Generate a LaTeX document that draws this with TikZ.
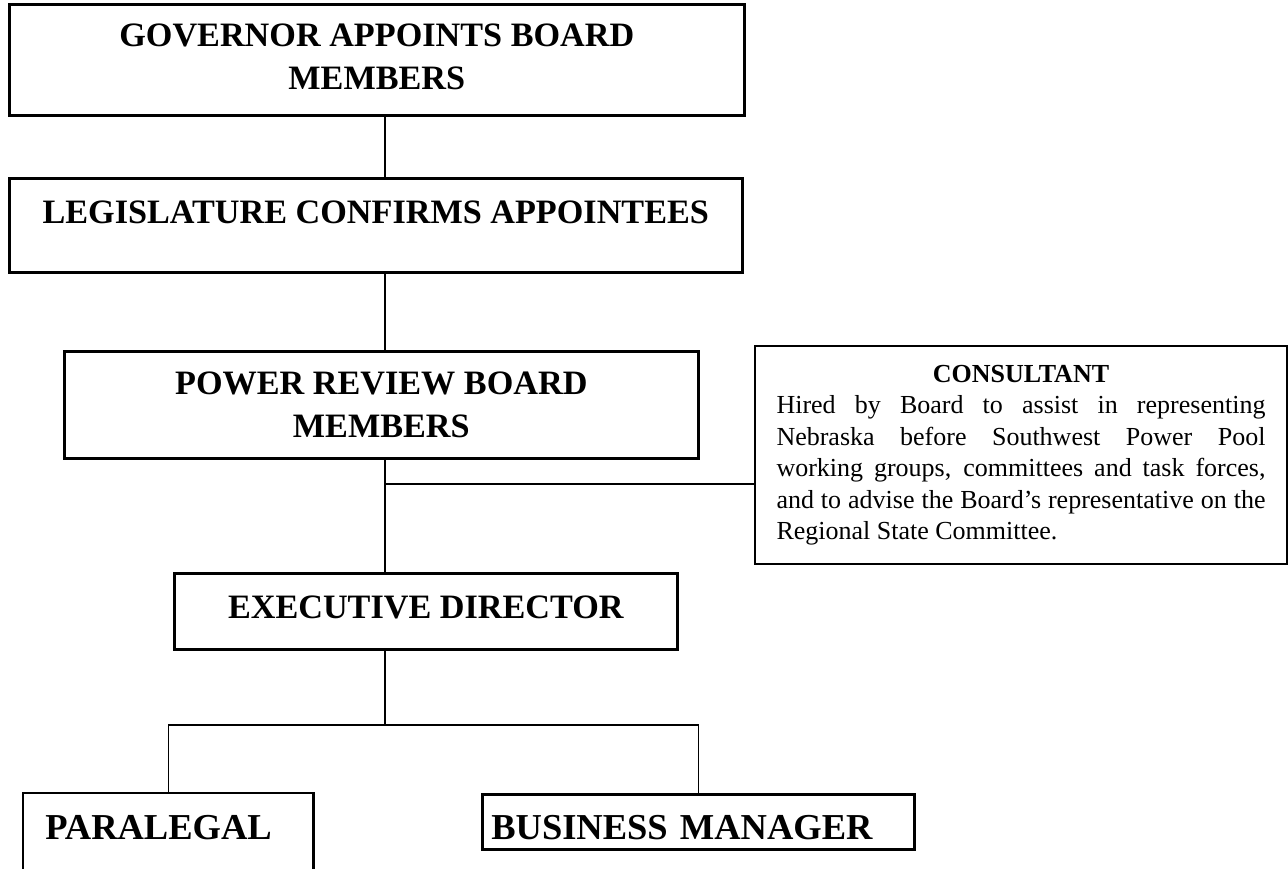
\documentclass[tikz,border=0pt]{standalone}
\usepackage{fontspec}
\setmainfont{Liberation Serif}
\usepackage{tikz}

\begin{document}
\begin{tikzpicture}[x=1pt,y=-1pt,
  box/.style={draw,line width=2.6pt,inner sep=0pt,anchor=north west,align=center,
              font=\bfseries\fontsize{34.2}{43}\selectfont},
  lowbox/.style={box,align=left,font=\bfseries\fontsize{36.5}{43}\selectfont,
                 text height=45pt},
  note/.style={draw,line width=2pt,anchor=north west,text width=489pt,
               inner xsep=21.5pt,inner ysep=19pt,align=justify,
               font=\fontsize{26}{31.5}\selectfont},
  link/.style={line width=1.6pt}]
  \useasboundingbox (0,0) rectangle (1288,869);
  \coordinate (spine) at (385,0);

  \node[box,minimum width=735pt,minimum height=111pt,text depth=6pt] (gov) at (8,3)
    {GOVERNOR APPOINTS BOARD\\ MEMBERS};
  \node[box,minimum width=733pt,text height=45pt,text depth=49pt] (leg) at (8,177)
    {LEGISLATURE CONFIRMS APPOINTEES};
  \node[box,minimum width=634pt,minimum height=107pt] (prb) at (63,350)
    {POWER REVIEW BOARD\\ MEMBERS};
  \node[note] (cons) at (754,345)
    {\noindent\hfill\textbf{CONSULTANT}\hfill\null\par
     \noindent Hired by Board to assist in representing\linebreak
     Nebraska before Southwest Power Pool\linebreak
     working groups, committees and task forces,\linebreak
     and to advise the Board’s representative on the\linebreak
     Regional State Committee.};
  \node[box,minimum width=503pt,text height=45pt,text depth=31pt] (exd) at (173,572)
    {EXECUTIVE DIRECTOR};
  \node[lowbox,draw=none,minimum width=288pt,text width=246pt,text depth=31pt] (para) at (23,793)
    {PARALEGAL};
  \node[lowbox,minimum width=432pt,text width=414pt,text depth=10pt] (biz) at (481,793)
    {BUSINESS MANAGER};

  % paralegal box runs off the bottom of the page
  \draw[line width=2.6pt] (para.south west) |- (para.north east) -- (para.south east);

  % chain of command
  \coordinate (tap) at (385,484);
  \coordinate (fork) at (385,725);
  \draw[link] (gov.south -| spine) -- (leg.north -| spine);
  \draw[link] (leg.south -| spine) -- (prb.north -| spine);
  \draw[link] (prb.south -| spine) -- (exd.north -| spine);
  \draw[link] (tap) -- (tap -| cons.west);
  \draw[link] (exd.south -| spine) -- (fork);
  \draw[link] (para.north) |- (fork) -| (biz.north);
\end{tikzpicture}
\end{document}
